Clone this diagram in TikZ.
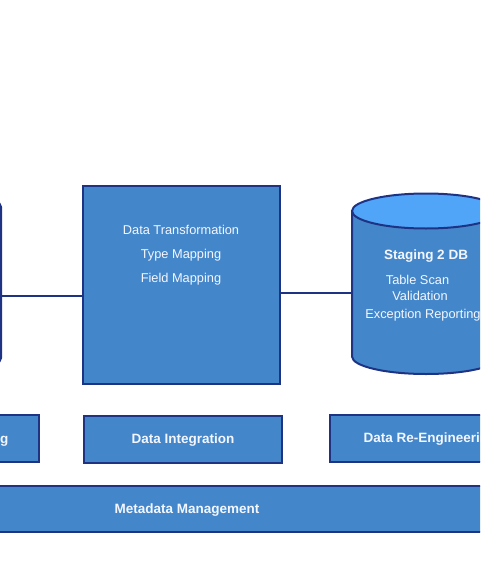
\documentclass[tikz,border=0pt]{standalone}
\usepackage{fontspec}
\setmainfont{Liberation Sans}
\usepackage{tikz}
\usetikzlibrary{calc}

\definecolor{edgenavy}{RGB}{31,51,133}
\definecolor{boxblue}{RGB}{67,135,202}
\definecolor{lidblue}{RGB}{80,165,248}
\definecolor{labelwhite}{RGB}{244,246,255}

\begin{document}
\begin{tikzpicture}[x = 1pt, y = -1pt,
	block/.style = {draw = edgenavy, fill = boxblue, line width = 2pt, inner sep = 0pt},
	tierlabel/.style = {text = labelwhite, font = \fontsize{13.5}{15}\selectfont\bfseries, inner sep = 0pt, text depth = 0pt},
	itemlabel/.style = {text = labelwhite, font = \fontsize{12.8}{15}\selectfont, inner sep = 0pt},
	link/.style = {draw = edgenavy, line width = 2pt}]
				\useasboundingbox (0, 0) rectangle (480, 578);
				\clip (0, 0) rectangle (480, 578);

				\coordinate[](leftdb) at (1, 296);
				\coordinate[](stagedb) at (352, 293);

				\fill[boxblue] (-147, 207) -- (-147, 358) arc (180:0:74 and 17.5) -- (1, 207) arc (0:180:74 and 17.5) -- cycle;
				\draw[edgenavy, line width = 2pt] (-147, 207) -- (-147, 358) arc (180:0:74 and 17.5) -- (1, 207);
				\filldraw[fill = lidblue, draw = edgenavy, line width = 2pt] (-73, 207) ellipse (74 and 17.5);

				\fill[boxblue] (352, 211) -- (352, 356.5) arc (180:0:74 and 17.5) -- (500, 211) arc (0:180:74 and 17.5) -- cycle;
				\draw[edgenavy, line width = 2pt] (352, 211) -- (352, 356.5) arc (180:0:74 and 17.5) -- (500, 211);
				\filldraw[fill = lidblue, draw = edgenavy, line width = 2pt] (426, 211) ellipse (74 and 17.5);

				\node[tierlabel](stagetitle) at (426, 255) {Staging 2 DB};
				\node[itemlabel](tablescan) at (417.5, 280) {Table Scan};
				\node[itemlabel](validation) at (420, 296) {Validation};
				\node[itemlabel](exceptions) at (423, 315) {Exception Reporting};

				\node[block, minimum width = 197, minimum height = 198](transform) at (181, 284.5) {};
				\node[itemlabel, font = \fontsize{12.8}{24}\selectfont, align = center](transformlist) at (181, 255.5)
					{Data Transformation\\Type Mapping\\Field Mapping};

				\draw[link] (leftdb) -- (leftdb -| transform.west);
				\draw[link] (transform.east |- stagedb) -- (stagedb);

				\node[block, minimum width = 200, minimum height = 47](staging) at (-61, 438.5) {};
				\node[tierlabel, anchor = east](staginglabel) at (8.5, 440) {g};
				\node[block, minimum width = 198, minimum height = 47, tierlabel, text = labelwhite](integration) at (183, 439) {Data Integration};
				\node[block, minimum width = 200, minimum height = 47, tierlabel, text = labelwhite](reengineering) at (430, 438) {Data Re-Engineering};

				\node[block, minimum width = 614, minimum height = 46, tierlabel, text = labelwhite](metadata) at (187, 509) {Metadata Management};
			\end{tikzpicture}
\end{document}
